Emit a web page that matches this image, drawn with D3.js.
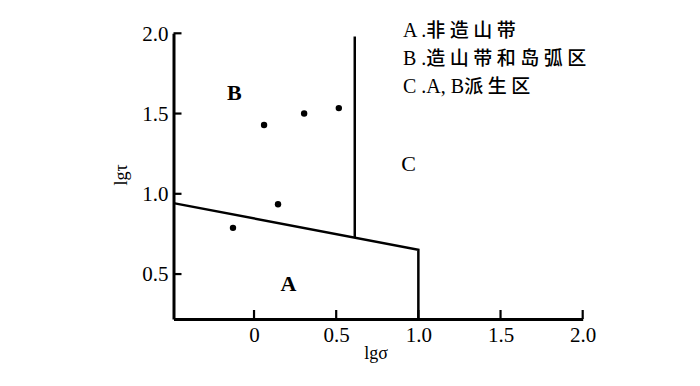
<!DOCTYPE html>
<html>
<head>
<meta charset="utf-8">
<script src="https://cdn.jsdelivr.net/npm/d3@7"></script>
<style>
  body { margin: 0; background: #fff; }
  svg { display: block; }
  .axis path { stroke: #000; }
  .axis text { font-family: "Liberation Serif", serif; font-size: 21px; fill: #000; }
</style>
</head>
<body>
<div id="chart"></div>
<script>
// --- Data ---
const sigmaTicks = [0, 0.5, 1.0, 1.5, 2.0];
const tauTicks = [0.5, 1.0, 1.5, 2.0];

// sample points (lgσ, lgτ)
const pointSigma = [0.061, 0.305, 0.516, 0.146, -0.128];
const pointTau   = [1.429, 1.500, 1.534, 0.935, 0.788];

// field boundaries
const boundarySigma = [-0.49, 1.0, 1.0];
const boundaryTau   = [0.942, 0.651, 0.22];
const dividerSigma  = [0.613, 0.613];
const dividerTau    = [0.727, 1.98];

// region labels
const regionNames = ['A', 'B', 'C'];
const regionSigma = [0.21, -0.12, 0.94];
const regionTau   = [0.44, 1.63, 1.19];

const legendKeys  = ['A .', 'B .', 'C .A, B'];
const legendNames = ['非造山带', '造山带和岛弧区', '派生区'];

// --- Layout ---
const width = 700, height = 386;
const svg = d3.select('#chart').append('svg')
    .attr('width', width)
    .attr('height', height);

const x = d3.scaleLinear().domain([-0.49, 2.0]).range([173.5, 582.7]);
const y = d3.scaleLinear().domain([0.22, 2.0]).range([319, 33.3]);
const x0 = x.domain()[0], y0 = y.domain()[0];

// axes (labels from d3 axis, inward ticks drawn below)
const xAxis = svg.append('g')
    .attr('class', 'axis')
    .attr('transform', `translate(0,${y(y0)})`)
    .call(d3.axisBottom(x).tickValues(sigmaTicks).tickSize(0)
        .tickPadding(8)
        .tickFormat(d => d === 0 ? '0' : d3.format('.1f')(d)));
xAxis.select('.domain').attr('stroke-width', 3);

const yAxis = svg.append('g')
    .attr('class', 'axis')
    .attr('transform', `translate(${x(x0)},0)`)
    .call(d3.axisLeft(y).tickValues(tauTicks).tickSize(0)
        .tickPadding(5)
        .tickFormat(d3.format('.1f')));
yAxis.select('.domain').attr('stroke-width', 3);

// inward tick marks
svg.append('g')
    .selectAll('line')
    .data(sigmaTicks)
    .join('line')
    .attr('x1', d => x(d)).attr('x2', d => x(d))
    .attr('y1', y(y0)).attr('y2', y(y0) - 9)
    .attr('stroke', '#000')
    .attr('stroke-width', 2.2);

svg.append('g')
    .selectAll('line')
    .data(tauTicks)
    .join('line')
    .attr('x1', x(x0)).attr('x2', x(x0) + 8)
    .attr('y1', d => y(d)).attr('y2', d => y(d))
    .attr('stroke', '#000')
    .attr('stroke-width', 2.2);

// axis titles
svg.append('text')
    .attr('x', 376).attr('y', 359)
    .attr('text-anchor', 'middle')
    .style('font-family', '"Liberation Serif", serif')
    .style('font-size', '18px')
    .text('lgσ');

svg.append('text')
    .attr('transform', 'translate(127,175) rotate(-90)')
    .attr('text-anchor', 'middle')
    .style('font-family', '"Liberation Serif", serif')
    .style('font-size', '18px')
    .text('lgτ');

// boundary lines
const line = d3.line().x(d => x(d[0])).y(d => y(d[1]));

svg.append('path')
    .datum(d3.zip(boundarySigma, boundaryTau))
    .attr('d', line)
    .attr('fill', 'none')
    .attr('stroke', '#000')
    .attr('stroke-width', 2.5);

svg.append('path')
    .datum(d3.zip(dividerSigma, dividerTau))
    .attr('d', line)
    .attr('fill', 'none')
    .attr('stroke', '#000')
    .attr('stroke-width', 2.5);

// sample points
svg.append('g')
    .selectAll('circle')
    .data(d3.zip(pointSigma, pointTau))
    .join('circle')
    .attr('cx', d => x(d[0]))
    .attr('cy', d => y(d[1]))
    .attr('r', 3.2)
    .attr('fill', '#000');

// region labels
svg.append('g')
    .selectAll('text')
    .data(regionNames)
    .join('text')
    .attr('x', (d, i) => x(regionSigma[i]))
    .attr('y', (d, i) => y(regionTau[i]))
    .attr('dy', '0.35em')
    .attr('text-anchor', 'middle')
    .style('font-family', '"Liberation Serif", serif')
    .style('font-size', '22px')
    .style('font-weight', d => d === 'C' ? 'normal' : 'bold')
    .text(d => d);

// legend
const legend = svg.append('g')
    .selectAll('text')
    .data(legendKeys)
    .join('text')
    .attr('x', 403)
    .attr('y', (d, i) => 30 + i * 28)
    .attr('dy', '0.35em')
    .style('font-size', '19px');

legend.append('tspan')
    .style('font-family', '"Liberation Serif", serif')
    .style('font-size', '20px')
    .text(d => d);

legend.append('tspan')
    .style('font-family', '"Noto Sans CJK SC", sans-serif')
    .style('font-weight', 500)
    .style('letter-spacing', '4.5px')
    .text((d, i) => legendNames[i]);
</script>
</body>
</html>
